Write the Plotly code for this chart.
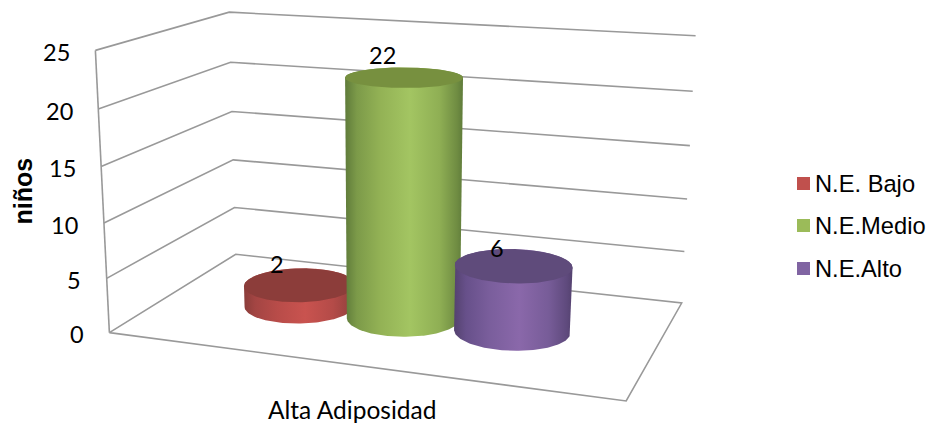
import numpy as np
import plotly.graph_objects as go

# Chart data
CATEGORY = "Alta Adiposidad"
SERIES = ["N.E. Bajo", "N.E.Medio", "N.E.Alto"]
VALUES = [2, 22, 6]
Z_TICKS = [0, 5, 10, 15, 20, 25]
Y_TITLE = "niños"

# Colours: legend key, lid, then side shading stops from left to right
KEY_COLORS = ["#c0504d", "#9bbb59", "#8064a2"]
LID_COLORS = ["#8c3d3a", "#77903f", "#5f4b7b"]
SIDE_STOPS = [0.0, 0.1, 0.3, 0.55, 0.8, 0.95, 1.0]
SIDE_COLORS = [
    ["#8a3d3a", "#a34543", "#b84c49", "#c9534f", "#b44b48", "#98423f", "#8a3d3a"],
    ["#5f7b3a", "#7c9a49", "#93b255", "#a3c562", "#8faf54", "#6f8c42", "#5f7b3a"],
    ["#54426f", "#67508a", "#7a5e9c", "#8a68aa", "#775c98", "#5f4a7d", "#54426f"],
]
GRID = "#999999"
TEXT = "#000000"
CALIBRI_LIKE = "Lato"

# View calibration: where the frame of the 3-D box falls on the canvas.
# Box coordinates are X, Y in 0..1 (width, depth) and Z in axis units.
EDGE_FRONT_LEFT = [(109, 333), (107, 278), (104, 223), (101, 167), (99, 109), (95, 50)]
EDGE_BACK_LEFT = [(236, 254), (234.5, 207.5), (233, 160), (231.5, 111.5), (230.5, 62), (229.5, 12.5)]
EDGE_BACK_RIGHT = [(681.7, 302.7), (684.7, 251.7), (687, 199.3), (689.7, 145.7), (692.7, 91), (695.7, 35.7)]
CORNER_FRONT_RIGHT = (626, 401)

# Cylinder layout in box coordinates
COL_CENTER_X = 0.5
COL_STEP_X = 0.222
COL_CENTER_Y = 0.497
COL_RADIUS_X = 0.1115
COL_RADIUS_Y = 0.2

# Data label offsets from the centre of each lid, in canvas pixels
LABEL_OFFSET = [(-23, -21), (-22, -22), (-17, -18)]


def solve_projection():
    world, image = [], []
    for i, z in enumerate(Z_TICKS):
        world += [(0, 0, z), (0, 1, z), (1, 1, z)]
        image += [EDGE_FRONT_LEFT[i], EDGE_BACK_LEFT[i], EDGE_BACK_RIGHT[i]]
    world.append((1, 0, 0))
    image.append(CORNER_FRONT_RIGHT)
    rows = []
    for (x, y, z), (u, v) in zip(world, image):
        p = [x, y, z / 25.0, 1.0]
        u, v = u / 1000.0, v / 1000.0
        rows.append(p + [0, 0, 0, 0] + [-u * c for c in p])
        rows.append([0, 0, 0, 0] + p + [-v * c for c in p])
    _, _, vt = np.linalg.svd(np.array(rows, dtype=float))
    return vt[-1].reshape(3, 4)


MATRIX = solve_projection()


def project(x, y, z):
    """Map box coordinates to canvas pixels."""
    x, y, z = np.broadcast_arrays(
        np.asarray(x, float), np.asarray(y, float), np.asarray(z, float) / 25.0
    )
    h = MATRIX @ np.stack([x, y, z, np.ones_like(x)])
    return 1000.0 * h[0] / h[2], 1000.0 * h[1] / h[2]


def convex_hull(px, py):
    pts = sorted(set(zip(px.tolist(), py.tolist())))

    def half(seq):
        out = []
        for p in seq:
            while len(out) > 1 and (
                (out[-1][0] - out[-2][0]) * (p[1] - out[-2][1])
                - (out[-1][1] - out[-2][1]) * (p[0] - out[-2][0])
            ) <= 0:
                out.pop()
            out.append(p)
        return out

    lower, upper = half(pts), half(pts[::-1])
    ring = lower[:-1] + upper[:-1]
    ring.append(ring[0])
    return [p[0] for p in ring], [p[1] for p in ring]


fig = go.Figure()


def add_line(points):
    xs, ys, zs = zip(*points)
    px, py = project(xs, ys, zs)
    fig.add_trace(
        go.Scatter(
            x=px, y=py, mode="lines", line=dict(color=GRID, width=1.6),
            hoverinfo="skip", showlegend=False,
        )
    )


# Walls and floor of the box
for z in Z_TICKS[1:]:
    add_line([(0, 0, z), (0, 1, z), (1, 1, z)])
add_line([(0, 0, 0), (0, 0, Z_TICKS[-1])])
add_line([(0, 0, 0), (1, 0, 0), (1, 1, 0), (0, 1, 0), (0, 0, 0)])

# Cylinders, back to front
theta = np.linspace(0, 2 * np.pi, 181)
annotations = []
for i, (name, value) in enumerate(zip(SERIES, VALUES)):
    cx = COL_CENTER_X + (i - 1) * COL_STEP_X
    rim_x = cx + COL_RADIUS_X * np.cos(theta)
    rim_y = COL_CENTER_Y + COL_RADIUS_Y * np.sin(theta)
    bx, by = project(rim_x, rim_y, 0)
    tx, ty = project(rim_x, rim_y, value)
    hx, hy = convex_hull(np.concatenate([bx, tx]), np.concatenate([by, ty]))
    scale = [[s, c] for s, c in zip(SIDE_STOPS, SIDE_COLORS[i])]
    fig.add_trace(
        go.Scatter(
            x=hx, y=hy, mode="lines", fill="toself", line=dict(width=0),
            fillgradient=dict(type="horizontal", colorscale=scale),
            name=name, hoverinfo="skip", showlegend=False,
        )
    )
    fig.add_trace(
        go.Scatter(
            x=tx, y=ty, mode="lines", fill="toself", line=dict(width=0),
            fillcolor=LID_COLORS[i], name=name, hoverinfo="skip", showlegend=False,
        )
    )
    lx, ly = project(cx, COL_CENTER_Y, value)
    annotations.append(
        dict(
            x=float(lx) + LABEL_OFFSET[i][0], y=float(ly) + LABEL_OFFSET[i][1],
            text=str(value), showarrow=False, borderpad=0,
            font=dict(family=CALIBRI_LIKE, size=23.5, color=TEXT),
        )
    )

# Value axis tick labels sit a fixed distance left of the front edge
for z in Z_TICKS:
    px, py = project(0, 0, z)
    annotations.append(
        dict(
            x=float(px) - 24.5, y=float(py) + 1.5, text=str(z), showarrow=False,
            xanchor="right", yanchor="middle", borderpad=0,
            font=dict(family=CALIBRI_LIKE, size=23.5, color=TEXT),
        )
    )

# Category label below the front edge of the floor
px, py = project(0.5, 0, 0)
annotations.append(
    dict(
        x=float(px), y=float(py) + 45, text=CATEGORY, showarrow=False, borderpad=0,
        font=dict(family=CALIBRI_LIKE, size=24.5, color=TEXT),
    )
)

# Axis title
annotations.append(
    dict(
        x=22.5, y=191, text=f"<b>{Y_TITLE}</b>", textangle=-90, showarrow=False,
        borderpad=0, font=dict(family="Liberation Sans", size=25, color=TEXT),
    )
)

# Series key
KEY_X = 803.5
KEY_TEXT_X = 813.5
KEY_Y = [183.5, 225.5, 268.5]
for name, color, y in zip(SERIES, KEY_COLORS, KEY_Y):
    fig.add_trace(
        go.Scatter(
            x=[KEY_X], y=[y], mode="markers",
            marker=dict(symbol="square", size=13, color=color, line=dict(width=0)),
            hoverinfo="skip", showlegend=False,
        )
    )
    annotations.append(
        dict(
            x=KEY_TEXT_X, y=y, text=name, showarrow=False,
            xanchor="left", yanchor="middle", borderpad=0,
            font=dict(family="Liberation Sans", size=23.7, color=TEXT),
        )
    )

fig.update_layout(
    width=930, height=424, autosize=False,
    margin=dict(l=0, r=0, t=0, b=0),
    paper_bgcolor="white", plot_bgcolor="white",
    xaxis=dict(range=[0, 930], visible=False, fixedrange=True),
    yaxis=dict(range=[424, 0], visible=False, fixedrange=True),
    annotations=annotations,
)
fig.write_html("out.html", config=dict(displayModeBar=False))
